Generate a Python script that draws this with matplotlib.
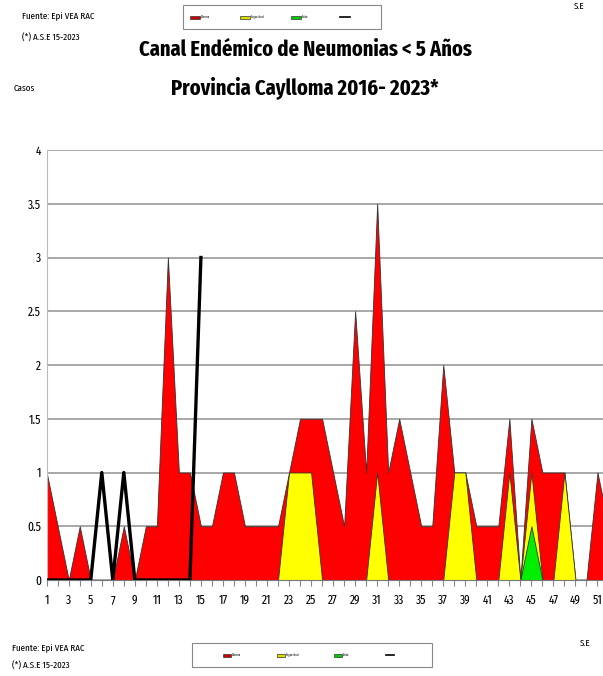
import matplotlib.pyplot as plt
from matplotlib.patches import Rectangle
from matplotlib.lines import Line2D

# data: endemic channel by epidemiological week (S.E)
weeks = list(range(1, 53))
alarma = [1, 0.5, 0, 0.5, 0, 0, 0, 0.5, 0, 0.5,
          0.5, 3, 1, 1, 0.5, 0.5, 1, 1, 0.5, 0.5,
          0.5, 0.5, 1, 1.5, 1.5, 1.5, 1, 0.5, 2.5, 1,
          3.5, 1, 1.5, 1, 0.5, 0.5, 2, 1, 1, 0.5,
          0.5, 0.5, 1.5, 0, 1.5, 1, 1, 1, 0, 0,
          1, 0.5]
seguridad = [0] * 22 + [1, 1, 1, 0, 0, 0, 0, 0,
             1, 0, 0, 0, 0, 0, 0, 1, 1, 0,
             0, 0, 1, 0, 1, 0, 0, 1, 0, 0,
             0, 0]
exito = [0] * 44 + [0.5] + [0] * 7
casos_2023 = [0, 0, 0, 0, 0, 1, 0, 1, 0, 0, 0, 0, 0, 0, 3]
weeks_2023 = weeks[:len(casos_2023)]

yticks = [0, 0.5, 1, 1.5, 2, 2.5, 3, 3.5, 4]
ytick_labels = ['0', '0.5', '1', '1.5', '2', '2.5', '3', '3.5', '4']

# narrow fonts, like the Arial Narrow of the original
plt.rcParams['font.family'] = ['Fira Sans Extra Condensed', 'Roboto Condensed', 'DejaVu Sans']

W, H = 603, 676
fig = plt.figure(figsize=(W / 100, H / 100), dpi=100)

# plot area (right side is cut off in the original)
left, right, top, bottom = 46.7, 608.5, 150, 580
ax = fig.add_axes([left / W, 1 - bottom / H, (right - left) / W, (bottom - top) / H])

ax.fill_between(weeks, alarma, color='#ff0000', edgecolor='#333333', linewidth=0.6, zorder=2)
ax.fill_between(weeks, seguridad, color='#ffff00', edgecolor='#333333', linewidth=0.6, zorder=3)
ax.fill_between(weeks, exito, color='#00ee00', edgecolor='#333333', linewidth=0.6, zorder=4)
ax.plot(weeks_2023, casos_2023, color='black', linewidth=2.4, zorder=5)

ax.set_xlim(1, 52)
ax.set_ylim(0, 4)
ax.set_yticks(yticks)
ax.set_yticklabels(ytick_labels)
ax.set_xticks(weeks)
ax.set_xticklabels([str(w) if w % 2 == 1 else '' for w in weeks])
ax.tick_params(axis='x', length=4, color='#888888', labelsize=9, pad=6)
ax.tick_params(axis='y', length=0, labelsize=9, pad=4)
ax.grid(axis='y', color='#999999', linewidth=1.2, zorder=0)
ax.set_axisbelow(True)
for s in ['top', 'right']:
    ax.spines[s].set_visible(False)
ax.spines['left'].set_color('#bbbbbb')
ax.spines['bottom'].set_color('#777777')
ax.spines['bottom'].set_zorder(6)

# titles
fig.text(305 / W, 1 - 50 / H, 'Canal Endémico de Neumonias < 5 Años', ha='center', va='center',
         fontsize=16, fontweight='bold')
fig.text(305 / W, 1 - 88 / H, 'Provincia Caylloma 2016- 2023*', ha='center', va='center',
         fontsize=16, fontweight='bold')

# side notes
fig.text(22 / W, 1 - 16 / H, 'Fuente: Epi VEA RAC', fontsize=7, va='center')
fig.text(22 / W, 1 - 38 / H, '(*) A.S.E 15-2023', fontsize=7, va='center')
fig.text(14 / W, 1 - 88 / H, 'Casos', fontsize=7, va='center')
fig.text(574 / W, 1 - 6 / H, 'S.E', fontsize=7, va='center')
fig.text(12 / W, 1 - 648 / H, 'Fuente: Epi VEA RAC', fontsize=7, va='center')
fig.text(12 / W, 1 - 666 / H, '(*) A.S.E 15-2023', fontsize=7, va='center')
fig.text(580 / W, 1 - 643 / H, 'S.E', fontsize=7, va='center')


# little legend boxes (top and bottom)
def legend_box(x0, y0, x1, y1, item_x, bar_w):
    fig.add_artist(Rectangle((x0 / W, 1 - y1 / H), (x1 - x0) / W, (y1 - y0) / H,
                             transform=fig.transFigure, facecolor='white', edgecolor='#888888',
                             linewidth=0.8))
    yc = (y0 + y1) / 2
    colors = ['#cc0000', '#dddd00', '#00cc00']
    names = ['Alarma', 'Seguridad', 'Exito']
    for xi, c, n in zip(item_x[:3], colors, names):
        fig.add_artist(Rectangle((xi / W, 1 - (yc + 1.5) / H), bar_w / W, 3 / H,
                                 transform=fig.transFigure, facecolor=c, edgecolor='#333333',
                                 linewidth=0.5))
        fig.text((xi + bar_w + 1) / W, 1 - yc / H, n, fontsize=2.5, va='center')
    xl = item_x[3]
    fig.add_artist(Line2D([xl / W, (xl + bar_w) / W], [1 - yc / H, 1 - yc / H],
                          transform=fig.transFigure, color='black', linewidth=1.2))


legend_box(183, 5, 381, 29, [190, 240, 291, 340], 10)
legend_box(192, 643, 432, 667, [223, 277, 334, 386], 8)

fig.savefig('out.png', dpi=100)
